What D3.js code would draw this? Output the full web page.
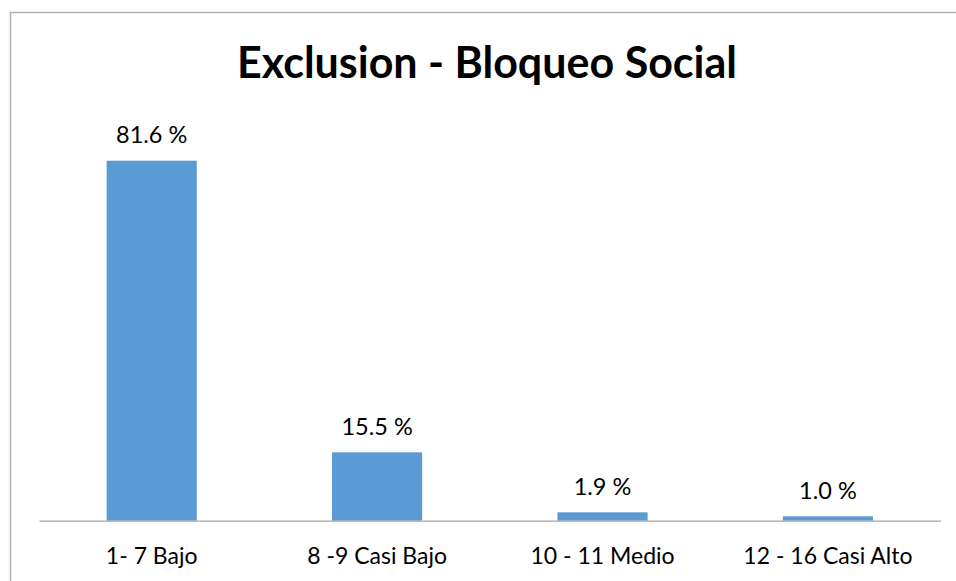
<!DOCTYPE html>
<html>
<head>
<meta charset="utf-8">
<script src="https://cdn.jsdelivr.net/npm/d3@7"></script>
<style>
  html, body { margin: 0; padding: 0; background: #fff; }
  svg { display: block; }
</style>
</head>
<body>
<div id="chart"></div>
<script>
// data
const categories = ["1- 7 Bajo", "8 -9 Casi Bajo", "10 - 11 Medio", "12 - 16 Casi Alto"];
const values = [81.6, 15.5, 1.9, 1.0];
const chartTitle = "Exclusion - Bloqueo Social";

const width = 956, height = 581;
const font = "Lato, 'Open Sans', sans-serif";

const svg = d3.select("#chart").append("svg")
    .attr("width", width)
    .attr("height", height);

// outer chart frame (runs past right and bottom edges)
svg.append("rect")
    .attr("x", 10.5).attr("y", 12.5)
    .attr("width", width).attr("height", height)
    .attr("fill", "none")
    .attr("stroke", "#b3b3b3")
    .attr("stroke-width", 1.5);

const x = d3.scaleBand()
    .domain(categories)
    .range([39, 940.6])
    .paddingInner(0.6)
    .paddingOuter(0.3);

const y = d3.scaleLinear()
    .domain([0, 81.6])
    .range([520.7, 160.7]);

// bars
svg.append("g")
    .selectAll("rect")
    .data(values)
    .join("rect")
    .attr("x", (d, i) => x(categories[i]))
    .attr("y", d => y(d))
    .attr("width", x.bandwidth())
    .attr("height", d => y(0) - y(d))
    .attr("fill", "#5b9bd5");

// baseline axis
const axis = svg.append("g")
    .attr("transform", `translate(0,${y(0)})`)
    .call(d3.axisBottom(x).tickSize(0).tickPadding(0));
axis.select(".domain").attr("stroke", "#a6a6a6").attr("stroke-width", 1.3);
axis.selectAll("text")
    .attr("dy", null)
    .attr("y", 43)
    .attr("fill", "#000")
    .style("font-family", font)
    .style("font-size", "23px");

// value labels
svg.append("g")
    .selectAll("text")
    .data(values)
    .join("text")
    .attr("x", (d, i) => x(categories[i]) + x.bandwidth() / 2)
    .attr("y", d => y(d) - 17.5)
    .attr("text-anchor", "middle")
    .attr("fill", "#000")
    .style("font-family", font)
    .style("font-size", "23.5px")
    .text(d => d.toFixed(1) + " %");

// title
svg.append("text")
    .attr("x", 487)
    .attr("y", 78)
    .attr("text-anchor", "middle")
    .attr("fill", "#000")
    .style("font-family", font)
    .style("font-weight", "bold")
    .style("font-size", "43px")
    .text(chartTitle);
</script>
</body>
</html>
